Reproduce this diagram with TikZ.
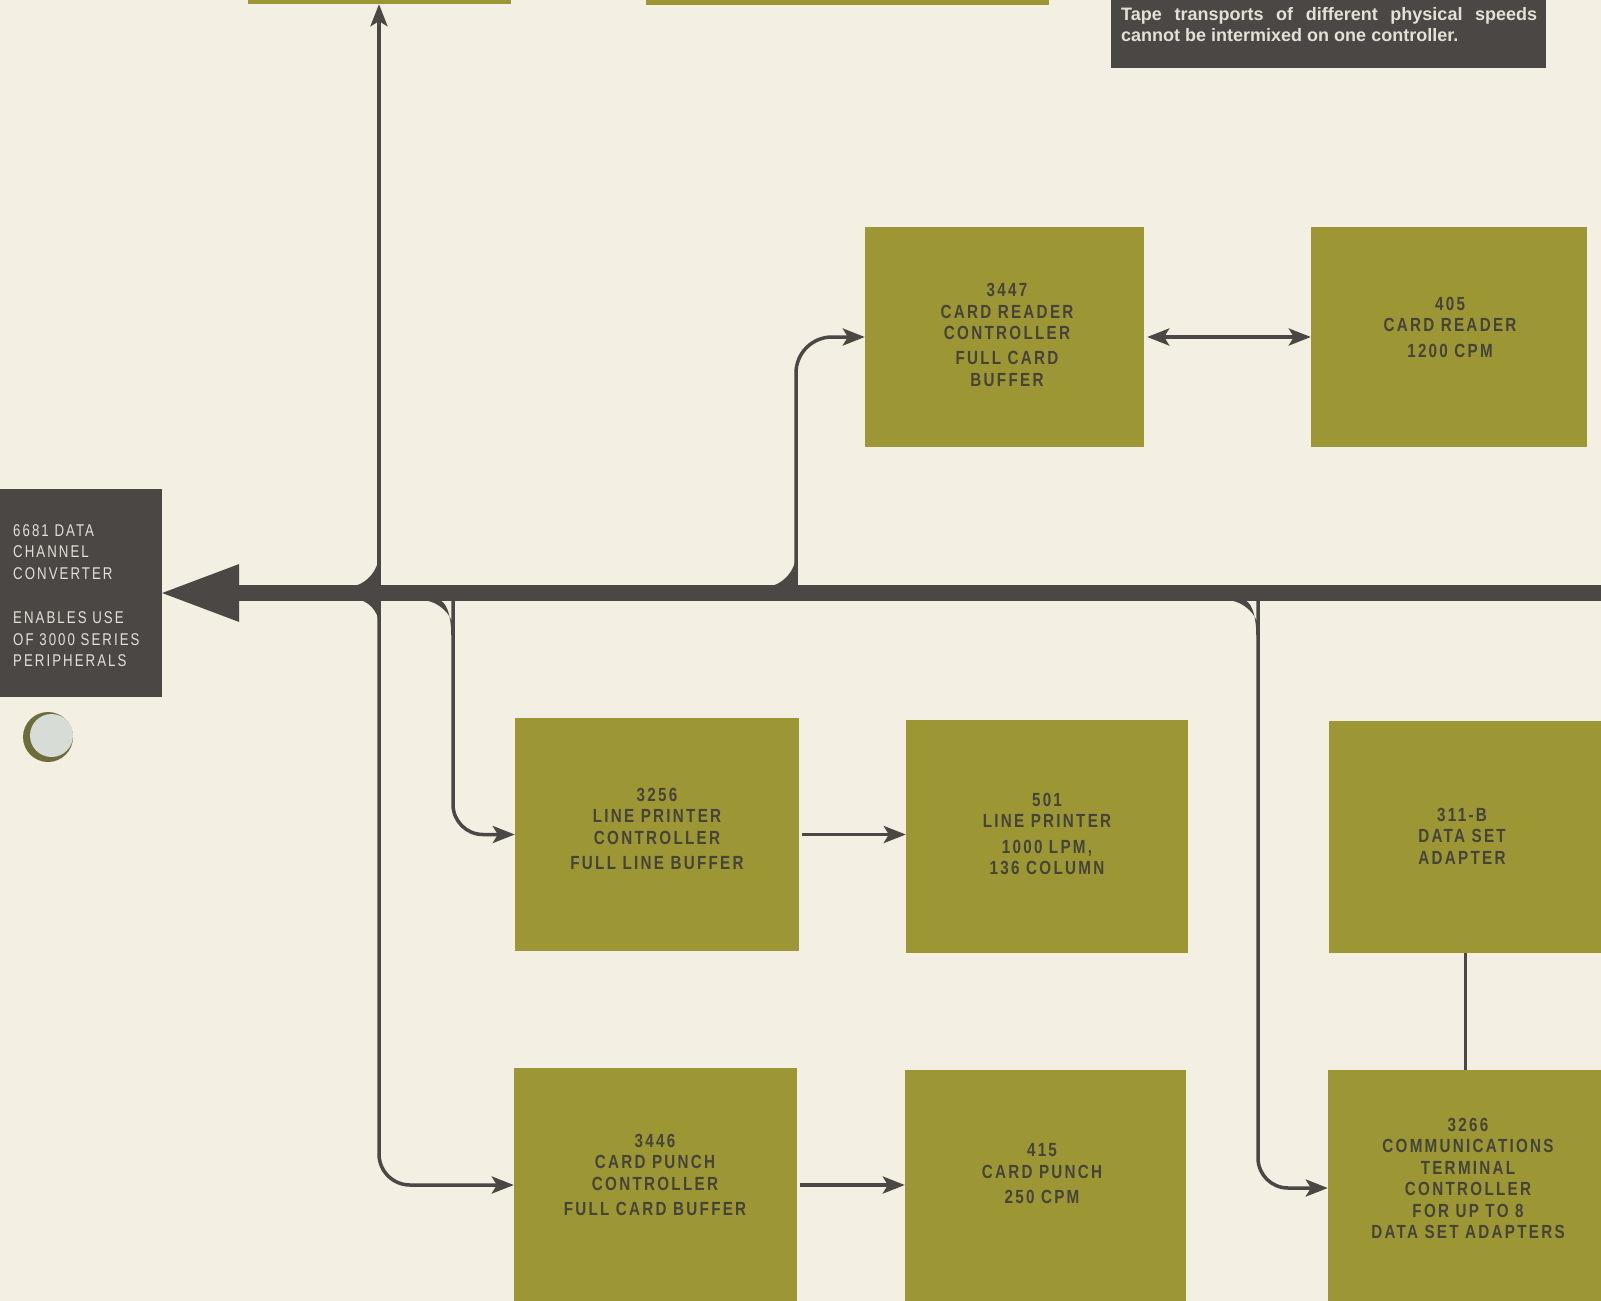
\documentclass[tikz,border=0pt]{standalone}
\usepackage{fontspec}
\usetikzlibrary{arrows.meta}
\newfontfamily\boxfont[FakeStretch=0.8,LetterSpace=12]{Liberation Sans}
\newfontfamily\dccfont[FakeStretch=0.78,LetterSpace=12]{Liberation Sans}
\newfontfamily\notefont{Liberation Sans}
\definecolor{bg}{HTML}{F3EFE3}
\definecolor{olive}{HTML}{9C9634}
\definecolor{dk}{HTML}{4A4744}
\definecolor{boxtxt}{HTML}{46443A}
\definecolor{lighttxt}{HTML}{E4E0D6}
\definecolor{holedark}{HTML}{6E6C3A}
\definecolor{holelight}{HTML}{D8DCD6}
\begin{document}
\begin{tikzpicture}[x=1pt,y=-1pt,
  pbox/.style={rectangle, fill=olive, draw=none, inner sep=0pt},
  dbox/.style={rectangle, fill=dk, draw=none, inner sep=0pt},
  btext/.style={font={\boxfont\bfseries\fontsize{19}{21.5}\selectfont}, text=boxtxt, align=center, inner sep=0pt},
  conn/.style={draw=dk, line width=3.5pt, -{Stealth[length=22pt,width=17pt,inset=5pt]}},
  biconn/.style={draw=dk, line width=3.5pt, {Stealth[length=22pt,width=17pt,inset=5pt]}-{Stealth[length=22pt,width=17pt,inset=5pt]}},
  taper/.pic={\fill[dk] (-33,-1) .. controls (-13.8,-1) and (1.75,14.8) .. (1.75,34) -- (-1.75,34) .. controls (-1.75,14) and (-7,-1) .. (-15,-1) -- cycle;},
  filletup/.pic={\fill[dk] (-34,1) .. controls (-16.3,1) and (-1.75,-14.7) .. (-1.75,-32) -- (-1.75,1) -- cycle;},
  filletdown/.pic={\fill[dk] (-27,-1) .. controls (-13.2,-1) and (-1.75,11.2) .. (-1.75,25) -- (-1.75,-1) -- cycle;}
]
\useasboundingbox (0,0) rectangle (1601,1301);
\fill[bg] (0,0) rectangle (1601,1301);

% partially visible boxes at the top
\node[pbox, minimum width=263pt, minimum height=34pt] (top1) at (379,-13) {};
\node[pbox, minimum width=403pt, minimum height=35pt] (top2) at (847.5,-12.5) {};

% note box
\node[dbox, minimum width=435pt, minimum height=78pt] (note) at (1328.5,29) {};
\node[anchor=north west, inner sep=0pt, text=lighttxt, align=left,
      font={\notefont\bfseries\fontsize{18}{21}\selectfont}] (notetext) at (1121,7)
  {\makebox[416pt][s]{Tape transports of different physical speeds}\\cannot be intermixed on one controller.};

% data channel converter
\node[dbox, minimum width=172pt, minimum height=208pt] (dcc) at (76,593) {};
\node[anchor=north west, inner sep=0pt, text=lighttxt, align=left,
      font={\dccfont\fontsize{17}{21.5}\selectfont}] (dcctext) at (13,524)
  {6681 DATA\\CHANNEL\\CONVERTER\\[23pt]ENABLES USE\\OF 3000 SERIES\\PERIPHERALS};

% punched hole
\fill[holedark] (48,737) circle[radius=25];
\fill[holelight] (51.5,735.5) circle[radius=21.5];

% peripheral boxes
\node[pbox, minimum width=279pt, minimum height=220pt] (crc) at (1004.5,337) {};
\node[pbox, minimum width=276pt, minimum height=220pt] (cr)  at (1449,337) {};
\node[pbox, minimum width=284pt, minimum height=233pt] (lpc) at (657,834.5) {};
\node[pbox, minimum width=282pt, minimum height=233pt] (lp)  at (1047,836.5) {};
\node[pbox, minimum width=272pt, minimum height=232pt] (dsa) at (1465,837) {};
\node[pbox, minimum width=283pt, minimum height=234pt] (cpc) at (655.5,1185) {};
\node[pbox, minimum width=281pt, minimum height=236pt] (cp)  at (1045.5,1188) {};
\node[pbox, minimum width=274pt, minimum height=236pt] (ctc) at (1465,1188) {};

% box texts
\node[btext] (tcrc) at (1007,335) {3447\\CARD READER\\CONTROLLER\\[3.5pt]FULL CARD\\BUFFER};
\node[btext] (tcr)  at (1450,327) {405\\CARD READER\\[4pt]1200 CPM};
\node[btext] (tlpc) at (657,829) {3256\\LINE PRINTER\\CONTROLLER\\[4pt]FULL LINE BUFFER};
\node[btext] (tlp)  at (1047,834) {501\\LINE PRINTER\\[4pt]1000 LPM,\\136 COLUMN};
\node[btext] (tdsa) at (1462,836) {311-B\\DATA SET\\ADAPTER};
\node[btext] (tcpc) at (655,1175) {3446\\CARD PUNCH\\CONTROLLER\\[4pt]FULL CARD BUFFER};
\node[btext] (tcp)  at (1042,1174) {415\\CARD PUNCH\\[4pt]250 CPM};
\node[btext] (tctc) at (1468,1178.5) {3266\\COMMUNICATIONS\\TERMINAL\\CONTROLLER\\FOR UP TO 8\\DATA SET ADAPTERS};

% main bus and big arrow
\coordinate (busR) at (1615,593);
\coordinate (ab) at (236,593);
\draw[dk, line width=16pt] (busR) -- (ab);
\fill[dk] (dcc.east) -- ++(77,-29) -- ++(0,58) -- cycle;

% branch points on the bus
\coordinate (jup) at (379,590);
\coordinate (jdn) at (379,596);
\coordinate (jlp) at (453,596);
\coordinate (jcr) at (796,590);
\coordinate (jct) at (1258,596);

% junction shapes
\pic at (380.75,586) {filletup};
\pic at (380.75,600) {filletdown};
\pic at (797.75,586) {filletup};
\pic at (453,601) {taper};
\pic at (1258,601) {taper};

% connectors
\draw[conn] (jup) -- (top1.south);
\draw[conn, rounded corners=31pt] (jdn) |- (cpc.west);
\draw[conn, rounded corners=30pt] (jlp) |- (lpc.west);
\draw[conn, rounded corners=36pt] (jcr) |- (crc.west);
\draw[conn, rounded corners=30pt] (jct) |- (ctc.west);
\draw[biconn] ([xshift=3pt]crc.east) -- (cr.west);
\draw[conn] ([xshift=3pt]lpc.east) -- (lpc.east -| lp.west);
\draw[conn] ([xshift=3pt]cpc.east) -- (cpc.east -| cp.west);
\draw[dk, line width=3pt] (dsa.south) -- (ctc.north);
\end{tikzpicture}
\end{document}
